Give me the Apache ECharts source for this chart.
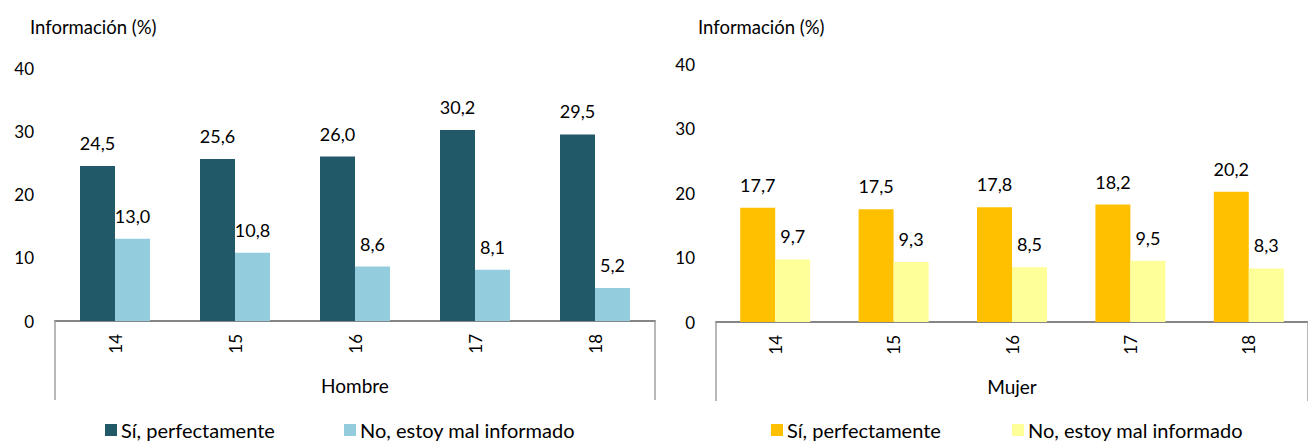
<!DOCTYPE html>
<html>
<head>
<meta charset="utf-8">
<script src="https://cdn.jsdelivr.net/npm/echarts@6/dist/echarts.min.js"></script>
<style>
  html, body { margin: 0; padding: 0; background: #fff; }
  #wrap { position: relative; width: 1308px; height: 443px; overflow: hidden; }
  #hombre { position: absolute; left: 0; top: 0; width: 660px; height: 443px; }
  #mujer { position: absolute; left: 660px; top: 0; width: 648px; height: 443px; }
</style>
</head>
<body>
<div id="wrap">
  <div id="hombre"></div>
  <div id="mujer"></div>
</div>
<script>
// Edades (categorías) y porcentajes por sexo
const ages = ['14', '15', '16', '17', '18'];
const seriesNames = ['Sí, perfectamente', 'No, estoy mal informado'];
const hombreSi = [24.5, 25.6, 26.0, 30.2, 29.5];
const hombreNo = [13.0, 10.8, 8.6, 8.1, 5.2];
const mujerSi = [17.7, 17.5, 17.8, 18.2, 20.2];
const mujerNo = [9.7, 9.3, 8.5, 9.5, 8.3];
const yTicks = [0, 10, 20, 30, 40];
const yTitle = 'Información (%)';

const FONT = 'Lato, "Open Sans", sans-serif';

function fmt(v) { return v.toFixed(1).replace('.', ','); }

function buildOption(cfg) {
  const barLabel = {
    show: true, position: 'top', distance: 14,
    fontFamily: FONT, fontSize: 18, color: '#000',
    formatter: p => fmt(p.value)
  };
  return {
    animation: false,
    textStyle: { fontFamily: FONT },
    graphic: [{
      type: 'text', left: cfg.titleLeft, top: 17,
      style: { text: yTitle, font: '18.5px ' + FONT, fill: '#000' }
    }],
    legend: [0, 1].map(i => ({
      data: [seriesNames[i]],
      left: cfg.legendLeft[i], top: cfg.legendTop,
      padding: 0,
      itemWidth: 12, itemHeight: 12, icon: 'rect',
      textStyle: { fontFamily: FONT, fontSize: 20, color: '#000', padding: [0, 0, 0, -1] },
      selectedMode: false
    })),
    grid: { left: cfg.gridLeft, top: cfg.gridTop, width: cfg.gridWidth, height: cfg.gridHeight },
    xAxis: [{
      type: 'category', data: ages, position: 'bottom',
      axisLine: { show: true, lineStyle: { color: '#868686', width: 2 } },
      axisTick: { show: false },
      axisLabel: { rotate: 90, margin: 13, fontFamily: FONT, fontSize: 17, color: '#000' }
    }, {
      type: 'category', data: [cfg.group], position: 'bottom',
      axisLine: { show: false },
      axisTick: { show: true, length: 79, lineStyle: { color: '#a0a0a0', width: 1.5 } },
      axisLabel: { margin: 55, fontFamily: FONT, fontSize: 19, color: '#000' }
    }],
    yAxis: {
      type: 'value', min: yTicks[0], max: yTicks[yTicks.length - 1], interval: 10,
      axisLine: { show: false }, axisTick: { show: false }, splitLine: { show: false },
      axisLabel: { margin: 21, fontFamily: FONT, fontSize: 17, color: '#000' }
    },
    series: [{
      name: seriesNames[0], type: 'bar', data: cfg.si, xAxisIndex: 0,
      barWidth: 35, barGap: '0%',
      itemStyle: { color: cfg.colors[0] }, label: barLabel
    }, {
      name: seriesNames[1], type: 'bar', data: cfg.no, xAxisIndex: 0,
      barWidth: 35, barGap: '0%',
      itemStyle: { color: cfg.colors[1] }, label: barLabel
    }]
  };
}

const chartH = echarts.init(document.getElementById('hombre'), null, { renderer: 'svg' });
chartH.setOption(buildOption({
  group: 'Hombre', si: hombreSi, no: hombreNo,
  colors: ['#215968', '#93CDDD'],
  gridLeft: 55, gridTop: 68, gridWidth: 600, gridHeight: 253,
  titleLeft: 30, legendLeft: [105, 344], legendTop: 420
}));

const chartM = echarts.init(document.getElementById('mujer'), null, { renderer: 'svg' });
chartM.setOption(buildOption({
  group: 'Mujer', si: mujerSi, no: mujerNo,
  colors: ['#FFC000', '#FFFF99'],
  gridLeft: 56, gridTop: 64, gridWidth: 602, gridHeight: 258,
  titleLeft: 38, legendLeft: [111, 352], legendTop: 420
}));
</script>
</body>
</html>
